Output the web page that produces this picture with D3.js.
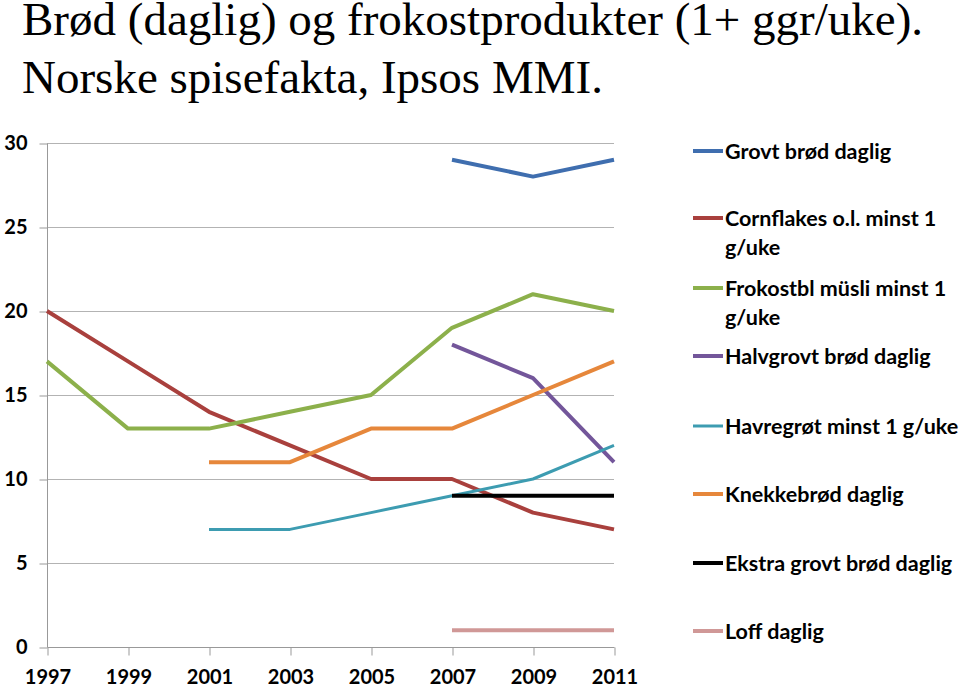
<!DOCTYPE html>
<html>
<head>
<meta charset="utf-8">
<style>
  body { margin: 0; background: #fff; }
  .title { font-family: "Liberation Serif", "Times New Roman", serif; font-size: 47px; fill: #000; }
  .tick text { font-family: Lato, "Open Sans", sans-serif; font-size: 20px; font-weight: bold; fill: #000; }
  .legend text { font-family: Lato, "Open Sans", sans-serif; font-size: 21.5px; font-weight: bold; fill: #000; }
</style>
<script src="https://d3js.org/d3.v7.min.js"></script>
</head>
<body>
<script>
var years = [1997, 1999, 2001, 2003, 2005, 2007, 2009, 2011];
var yTicks = [0, 5, 10, 15, 20, 25, 30];

var seriesNames = [
  ["Grovt brød daglig"],
  ["Cornflakes o.l. minst 1", "g/uke"],
  ["Frokostbl müsli minst 1", "g/uke"],
  ["Halvgrovt brød daglig"],
  ["Havregrøt minst 1 g/uke"],
  ["Knekkebrød daglig"],
  ["Ekstra grovt brød daglig"],
  ["Loff daglig"]
];
var seriesColors = ["#3f6eaf", "#a9403d", "#8cb04b", "#73569a", "#3d9cb1", "#e6873b", "#000000", "#d09897"];
var seriesWidths = [4, 4, 4, 4, 3, 4, 4, 4];

// null = no value that year
var grovt      = [null, null, null, null, null, 29, 28, 29];
var cornflakes = [20, 17, 14, 12, 10, 10, 8, 7];
var musli      = [17, 13, 13, 14, 15, 19, 21, 20];
var halvgrovt  = [null, null, null, null, null, 18, 16, 11];
var havregrot  = [null, null, 7, 7, 8, 9, 10, 12];
var knekke     = [null, null, 11, 11, 13, 13, 15, 17];
var ekstra     = [null, null, null, null, null, 9, 9, 9];
var loff       = [null, null, null, null, null, 1, 1, 1];
var seriesValues = [grovt, cornflakes, musli, halvgrovt, havregrot, knekke, ekstra, loff];

var W = 959, H = 689;
var svg = d3.select("body").append("svg").attr("width", W).attr("height", H);

svg.append("text").attr("class", "title").attr("x", 22).attr("y", 35)
  .text("Brød (daglig) og frokostprodukter (1+ ggr/uke).");
svg.append("text").attr("class", "title").attr("x", 22).attr("y", 93)
  .text("Norske spisefakta, Ipsos MMI.");

var x = d3.scaleLinear().domain([1997, 2011]).range([47, 614]);
var y = d3.scaleLinear().domain([0, 30]).range([647, 143]);

// gridlines
svg.append("g").selectAll("line").data(yTicks.filter(function(d) { return d > 0; }))
  .enter().append("line")
  .attr("x1", x(1997)).attr("x2", x(2011))
  .attr("y1", function(d) { return y(d) + 0.5; }).attr("y2", function(d) { return y(d) + 0.5; })
  .attr("stroke", "#b3b3b3").attr("stroke-width", 1);

var yAxis = d3.axisLeft(y).tickValues(yTicks).tickSize(8).tickPadding(12);
svg.append("g").attr("transform", "translate(" + (x(1997) + 0.5) + ",0.5)").call(yAxis)
  .call(function(g) {
    g.select(".domain").attr("stroke", "#999").attr("d", "M0," + y(30) + "V" + y(0));
    g.selectAll(".tick line").attr("stroke", "#999");
    g.selectAll(".tick text").attr("x", -20).attr("text-anchor", "end");
  });

var xAxis = d3.axisBottom(x).tickValues(years).tickFormat(d3.format("d")).tickSize(8).tickPadding(14);
svg.append("g").attr("transform", "translate(0.5," + (y(0) + 0.5) + ")").call(xAxis)
  .call(function(g) {
    g.select(".domain").attr("stroke", "#999").attr("d", "M" + x(1997) + ",0H" + x(2011));
    g.selectAll(".tick line").attr("stroke", "#999");
  });

var line = d3.line()
  .defined(function(d) { return d.v !== null; })
  .x(function(d) { return x(d.year); })
  .y(function(d) { return y(d.v); });

seriesValues.forEach(function(vals, i) {
  var pts = years.map(function(yr, j) { return { year: yr, v: vals[j] }; });
  svg.append("path").datum(pts)
    .attr("d", line)
    .attr("fill", "none")
    .attr("stroke", seriesColors[i])
    .attr("stroke-width", seriesWidths[i])
    .attr("stroke-linejoin", "round");
});

// legend
var legendY = [151, 218, 288, 356, 426, 494, 563, 631];
var legend = svg.append("g").attr("class", "legend");
seriesNames.forEach(function(lines, i) {
  var g = legend.append("g").attr("transform", "translate(693," + legendY[i] + ")");
  g.append("line").attr("x1", 0).attr("x2", 30).attr("y1", 0).attr("y2", 0)
    .attr("stroke", seriesColors[i]).attr("stroke-width", seriesWidths[i]);
  lines.forEach(function(t, k) {
    g.append("text").attr("x", 32).attr("y", 8 + k * 29).text(t);
  });
});
</script>
</body>
</html>
